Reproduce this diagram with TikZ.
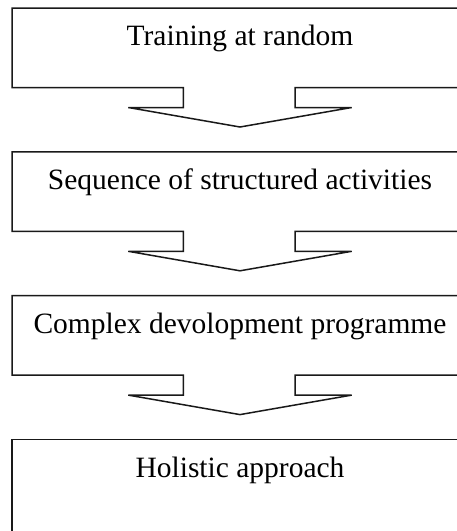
\documentclass[tikz,border=0pt]{standalone}
\usepackage{fontspec}
\setmainfont{Liberation Serif}
\begin{document}
\begin{tikzpicture}[x=1pt,y=-1pt,
  outline/.style={draw=black!90,line width=1.5pt,line join=miter},
  label/.style={anchor=base,inner sep=0pt,font=\fontsize{29.5}{35}\selectfont}]
\useasboundingbox (0,0) rectangle (457,531);
\clip (0,0) rectangle (457,531);
% callout boxes with down arrows
\foreach \i/\t in {1/8, 2/151.8, 3/295.6} {
  \coordinate (tl\i) at (12,\t);
  \coordinate (tip\i) at (240,\t+119);
  \draw[outline] (470,\t) -- (tl\i) -- (12,\t+79.5) -- (183.3,\t+79.5) -- (183.3,\t+99.5)
     -- (128.3,\t+99.5) -- (tip\i) -- (351.7,\t+99.5) -- (295,\t+99.5) -- (295,\t+79.5)
     -- (470,\t+79.5);
}
% last box (open at the bottom)
\coordinate (tl4) at (12,439.5);
\draw[outline] (470,439.5) -- (tl4) -- (12,545);
% texts
\node[label] (t1) at (240,45.5) {Training at random};
\node[label] (t2) at (240,189.3) {Sequence of structured activities};
\node[label] (t3) at (240,333.1) {Complex devolopment programme};
\node[label] (t4) at (240,477) {Holistic approach};
\end{tikzpicture}
\end{document}
